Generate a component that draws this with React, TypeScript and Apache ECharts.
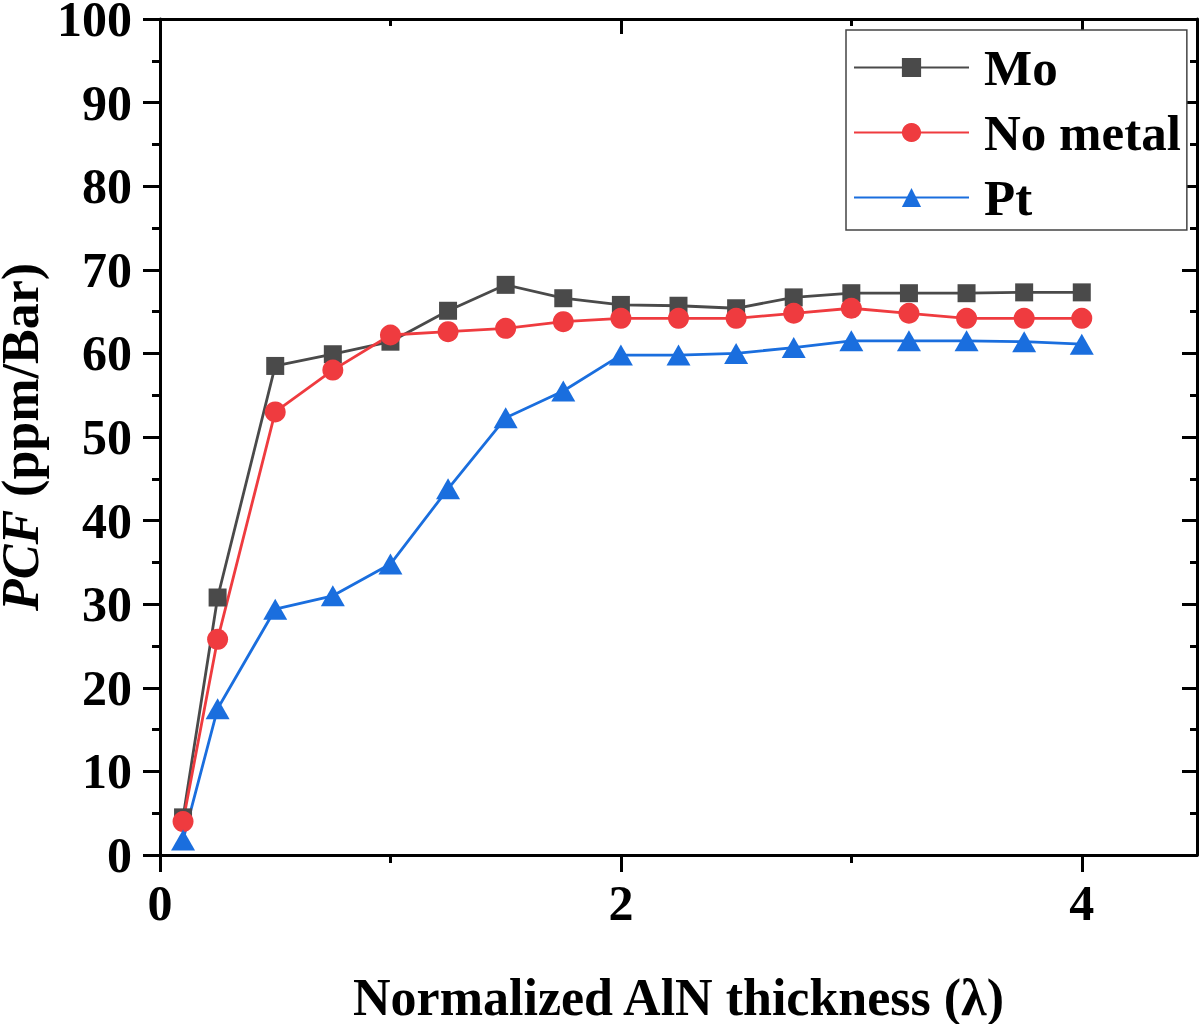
import React, { useEffect, useRef } from "react";
import * as echarts from "echarts";

const thickness = [0.1, 0.25, 0.5, 0.75, 1, 1.25, 1.5, 1.75, 2, 2.25, 2.5, 2.75, 3, 3.25, 3.5, 3.75, 4];
const moValues = [4.5, 30.8, 58.5, 59.9, 61.4, 65.1, 68.2, 66.6, 65.8, 65.7, 65.4, 66.7, 67.2, 67.2, 67.2, 67.3, 67.3];
const noMetalValues = [4.0, 25.8, 53.0, 58.0, 62.2, 62.6, 63.0, 63.8, 64.2, 64.2, 64.2, 64.8, 65.4, 64.8, 64.2, 64.2, 64.2];
const ptValues = [1.8, 17.5, 29.4, 31.0, 34.8, 43.8, 52.3, 55.5, 59.8, 59.8, 60.0, 60.7, 61.5, 61.5, 61.5, 61.4, 61.1];
const xMajorTicks = [0, 2, 4];
const xMinorTicks = [1, 3];

const FONT = "'Liberation Serif', 'Times New Roman', serif";

export default function App() {
  const ref = useRef<HTMLDivElement>(null);
  useEffect(() => {
    if (!ref.current) return;
    const chart = echarts.init(ref.current, undefined, { renderer: "svg" });
    const pairs = (vals: number[]) => thickness.map((x, i) => [x, vals[i]]);
    const axisLine = { show: true, onZero: false, lineStyle: { color: "#000", width: 3 } };
    const baseX = {
      type: "value",
      min: 0,
      max: 4.5,
      gridIndex: 0,
      splitLine: { show: false },
      axisLabel: { show: false },
    };
    const baseY = {
      type: "value",
      min: 0,
      max: 100,
      interval: 10,
      gridIndex: 0,
      splitLine: { show: false },
    };
    chart.setOption({
      animation: false,
      backgroundColor: "#fff",
      grid: { left: 160, right: 3, top: 19, bottom: 169, containLabel: false, outerBoundsMode: "none" },
      legend: {
        orient: "vertical",
        left: 846,
        top: 30,
        padding: [12, 6, 7, 7],
        itemGap: 14,
        itemWidth: 115,
        itemHeight: 24,
        borderColor: "#444",
        borderWidth: 1.5,
        backgroundColor: "#fff",
        textStyle: {
          fontFamily: FONT,
          fontWeight: "bold",
          fontSize: 51,
          color: "#000",
          padding: [0, 0, 0, 10],
        },
        data: ["Mo", "No metal", "Pt"],
      },
      xAxis: [
        {
          ...baseX,
          position: "bottom",
          axisLine,
          axisTick: { show: true, length: 17, lineStyle: { color: "#000", width: 3 }, customValues: xMajorTicks },
          axisLabel: {
            show: true,
            customValues: xMajorTicks,
            fontFamily: FONT,
            fontWeight: "bold",
            fontSize: 50,
            color: "#000",
            margin: 23,
          },
          name: "Normalized AlN thickness (λ)",
          nameLocation: "middle",
          nameGap: 120,
          nameTextStyle: { fontFamily: FONT, fontWeight: "bold", fontSize: 52, lineHeight: 44, color: "#000" },
        },
        {
          ...baseX,
          position: "bottom",
          axisLine: { show: false, onZero: false },
          axisTick: { show: true, length: 8, lineStyle: { color: "#000", width: 3 }, customValues: xMinorTicks },
        },
        {
          ...baseX,
          position: "top",
          axisLine,
          axisTick: { show: true, inside: true, length: 15, lineStyle: { color: "#000", width: 3 }, customValues: xMajorTicks },
        },
        {
          ...baseX,
          position: "top",
          axisLine: { show: false, onZero: false },
          axisTick: { show: true, inside: true, length: 7, lineStyle: { color: "#000", width: 3 }, customValues: xMinorTicks },
        },
      ],
      yAxis: [
        {
          ...baseY,
          position: "left",
          axisLine,
          axisTick: { show: true, length: 17, lineStyle: { color: "#000", width: 3 } },
          minorTick: { show: true, splitNumber: 2, length: 8, lineStyle: { color: "#000", width: 3 } },
          axisLabel: {
            fontFamily: FONT,
            fontWeight: "bold",
            fontSize: 50,
            color: "#000",
            margin: 28,
          },
          name: "{i|PCF} (ppm/Bar)",
          nameLocation: "middle",
          nameGap: 108,
          nameTextStyle: {
            fontFamily: FONT,
            fontWeight: "bold",
            fontSize: 52,
            lineHeight: 44,
            color: "#000",
            rich: {
              i: { fontFamily: FONT, fontWeight: "bold", fontStyle: "italic", fontSize: 52, lineHeight: 44, color: "#000" },
            },
          },
        },
        {
          ...baseY,
          position: "right",
          axisLine,
          axisLabel: { show: false },
          axisTick: { show: true, inside: true, length: 15, lineStyle: { color: "#000", width: 3 } },
          minorTick: { show: true, splitNumber: 2, length: 7, lineStyle: { color: "#000", width: 3 } },
        },
      ],
      series: [
        {
          name: "Mo",
          type: "line",
          xAxisIndex: 0,
          yAxisIndex: 0,
          data: pairs(moValues),
          symbol: "rect",
          symbolSize: 18,
          color: "#4a4a4a",
          lineStyle: { color: "#4a4a4a", width: 2.8 },
          itemStyle: { color: "#4a4a4a" },
        },
        {
          name: "No metal",
          type: "line",
          xAxisIndex: 0,
          yAxisIndex: 0,
          data: pairs(noMetalValues),
          symbol: "circle",
          symbolSize: 21,
          color: "#ef3b3f",
          lineStyle: { color: "#ef3b3f", width: 2.8 },
          itemStyle: { color: "#ef3b3f" },
        },
        {
          name: "Pt",
          type: "line",
          xAxisIndex: 0,
          yAxisIndex: 0,
          data: pairs(ptValues),
          symbol: "triangle",
          symbolSize: [24, 21],
          color: "#1a6ede",
          lineStyle: { color: "#1a6ede", width: 2.8 },
          itemStyle: { color: "#1a6ede" },
        },
      ],
    });
    return () => chart.dispose();
  }, []);
  return (
    <div
      ref={ref}
      style={{ position: "absolute", left: 0, top: 0, width: 1200, height: 1024, background: "#fff" }}
    />
  );
}
